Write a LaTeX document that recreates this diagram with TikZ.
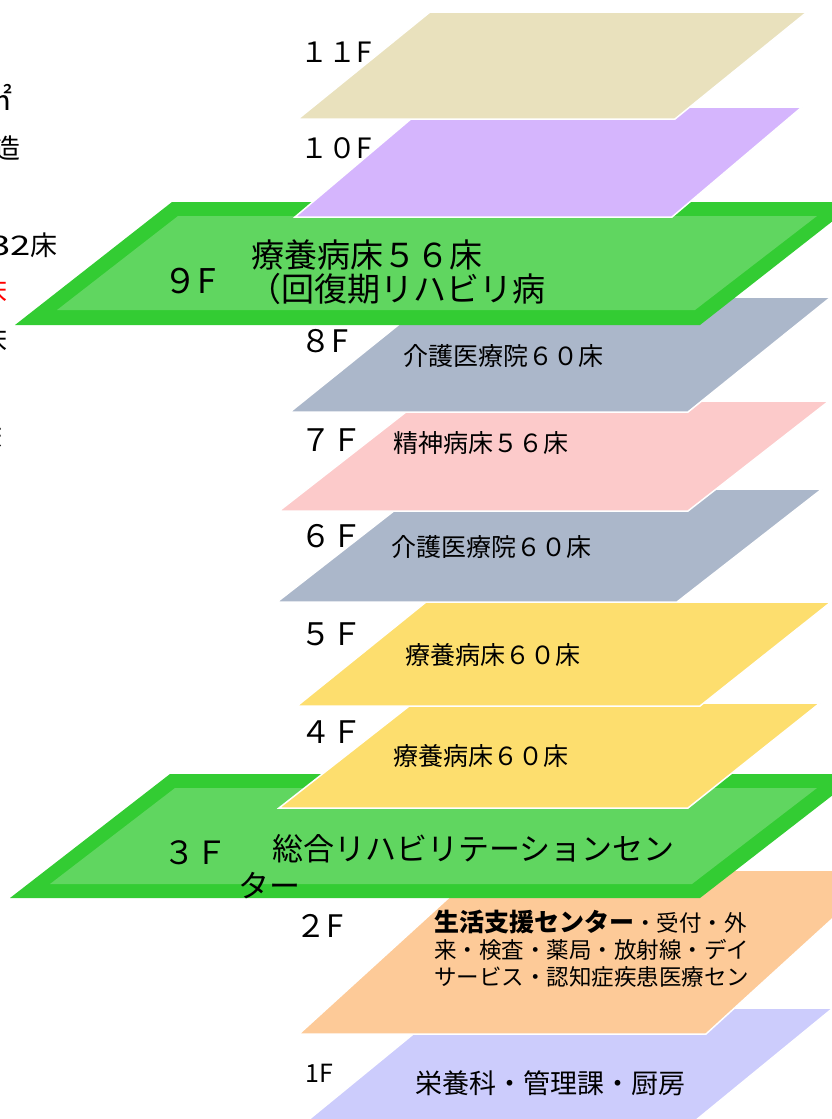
\documentclass[tikz,border=0pt]{standalone}
\usepackage{fontspec}
\setmainfont{Noto Sans CJK JP}

\definecolor{roofbeige}{RGB}{233,225,189}
\definecolor{lilac}{RGB}{213,181,253}
\definecolor{rehabdark}{RGB}{51,204,51}
\definecolor{rehablight}{RGB}{96,214,96}
\definecolor{careblue}{RGB}{171,183,202}
\definecolor{psychpink}{RGB}{252,202,202}
\definecolor{sickyellow}{RGB}{253,222,110}
\definecolor{clinicpeach}{RGB}{253,202,152}
\definecolor{kitchenblue}{RGB}{204,204,252}

\tikzset{
  slab/.style={draw=white, line width=1.5pt},
  flabel/.style={anchor=base west, inner sep=0pt, font=\fontsize{31}{37}\selectfont},
  ward/.style={anchor=base west, inner sep=0pt, font=\fontsize{25}{30}\selectfont},
  bigward/.style={anchor=base west, inner sep=0pt, font=\fontsize{33}{40}\selectfont},
  desk/.style={anchor=base west, inner sep=0pt, font=\fontsize{22.5}{27}\selectfont},
  side/.style={anchor=base east, inner sep=0pt, font=\fontsize{27}{32}\selectfont}
}

\begin{document}
\begin{tikzpicture}[x=1pt,y=-1pt]
    \useasboundingbox (0,0) rectangle (832,1119);
    \clip (0,0) rectangle (832,1119);

    % floors, from the bottom up
    \filldraw[slab, fill=kitchenblue] (296,1130) -- (684,1130) -- (833,1008) -- (445,1008) -- cycle;
    \filldraw[slab, fill=clinicpeach] (299,1034) -- (706,1034) -- (886,870) -- (479,870) -- cycle;
    \fill[rehabdark] (10,898) -- (700,898) -- (860,774) -- (170,774) -- cycle;
    \fill[rehablight] (50,884) -- (692,884) -- (817,788) -- (175,788) -- cycle;
    \filldraw[slab, fill=sickyellow] (279,808) -- (688,808) -- (820,703) -- (413,703) -- cycle;
    \filldraw[slab, fill=sickyellow] (297,706) -- (700,706) -- (831,602) -- (426,602) -- cycle;
    \filldraw[slab, fill=careblue] (277,602) -- (677,602) -- (822,489) -- (422,489) -- cycle;
    \filldraw[slab, fill=psychpink] (279,511) -- (688,511) -- (829,401) -- (420,401) -- cycle;
    \filldraw[slab, fill=careblue] (290,412) -- (688,412) -- (831,297) -- (433,297) -- cycle;
    \fill[rehabdark] (15,325) -- (700,325) -- (857,202) -- (172,202) -- cycle;
    \fill[rehablight] (57,310) -- (695,310) -- (817,216) -- (178,216) -- cycle;
    \filldraw[slab, fill=lilac] (295,217) -- (672,217) -- (802,107) -- (425,107) -- cycle;
    \filldraw[slab, fill=roofbeige] (298,119) -- (675,119) -- (807,12) -- (430,12) -- cycle;

    % floor numbers
    \node[flabel, font=\fontsize{28}{34}\selectfont] (l11) at (300,62) {１１F};
    \node[flabel, font=\fontsize{28}{34}\selectfont] (l10) at (300,158) {１０F};
    \node[flabel, font=\fontsize{34}{40}\selectfont] (l9) at (163,293) {９F};
    \node[flabel] (l8) at (300,352) {８F};
    \node[flabel] (l7) at (300,451) {７Ｆ};
    \node[flabel] (l6) at (300,547) {６Ｆ};
    \node[flabel] (l5) at (300,645) {５Ｆ};
    \node[flabel] (l4) at (300,743) {４Ｆ};
    \node[flabel, font=\fontsize{32}{38}\selectfont] (l3) at (163,864) {３Ｆ};
    \node[flabel] (l2) at (295,937) {２F};
    \node[flabel, font=\fontsize{25}{30}\selectfont] (l1) at (305,1082) {1F};

    % what is on each floor
    \node[bigward] (t9a) at (251,267) {療養病床５６床};
    \node[bigward] (t9b) at (248,301) {（回復期リハビリ病};
    \node[ward] (t8) at (403,365) {介護医療院６０床};
    \node[ward] (t7) at (393,452) {精神病床５６床};
    \node[ward] (t6) at (391,556) {介護医療院６０床};
    \node[ward] (t5) at (405,664) {療養病床６０床};
    \node[ward] (t4) at (393,765) {療養病床６０床};
    \node[bigward, font=\fontsize{31}{37}\selectfont] (t3a) at (272,860) {総合リハビリテーションセン};
    \node[bigward, font=\fontsize{31}{37}\selectfont] (t3b) at (238,897) {ター};
    \node[desk] (t2a) at (434,931) {{\bfseries\fontsize{25}{30}\selectfont 生活支援センター}・受付・外};
    \node[desk] (t2b) at (434,958) {来・検査・薬局・放射線・デイ};
    \node[desk] (t2c) at (434,985) {サービス・認知症疾患医療セン};
    \node[ward, font=\fontsize{27}{32}\selectfont] (t1) at (415,1093) {栄養科・管理課・厨房};

    % cut-off notes on the left
    \node[side, font=\fontsize{30}{36}\selectfont] (s1) at (13,110) {㎡};
    \node[side] (s2) at (21,158) {造};
    \node[side] (s3) at (58,255) {\scalebox{1.35}[1]{32}床};
    \node[side, text=red] (s4) at (8,301) {床};
    \node[side] (s5) at (8,350) {床};
    \node[side] (s6) at (3,447) {床};
\end{tikzpicture}
\end{document}
